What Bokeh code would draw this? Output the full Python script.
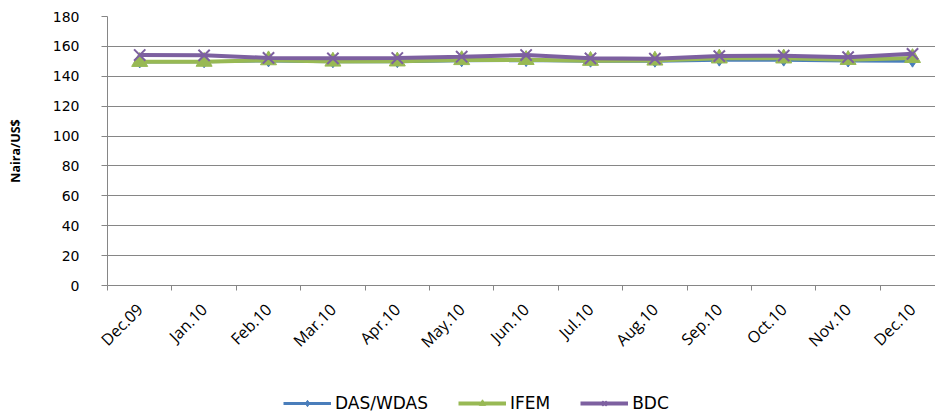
from math import pi

from bokeh.embed import file_html
from bokeh.layouts import column
from bokeh.models import FixedTicker, Legend, Range1d
from bokeh.plotting import figure
from bokeh.resources import INLINE

# Monthly average exchange rates (Naira per US$)
months = ["Dec.09", "Jan.10", "Feb.10", "Mar.10", "Apr.10", "May.10", "Jun.10",
          "Jul.10", "Aug.10", "Sep.10", "Oct.10", "Nov.10", "Dec.10"]
das_wdas = [149.6, 149.7, 150.3, 149.7, 149.8, 150.4, 150.5,
            150.1, 150.1, 150.8, 150.8, 150.2, 150.1]
ifem = [149.7, 149.8, 150.8, 149.9, 150.0, 150.9, 151.0,
        150.4, 150.6, 152.0, 152.0, 151.0, 152.3]
bdc = [154.2, 154.0, 152.3, 152.0, 152.2, 153.1, 154.2,
       152.0, 151.8, 153.5, 153.8, 152.8, 155.0]
series_names = ["DAS/WDAS", "IFEM", "BDC"]
y_ticks = [0, 20, 40, 60, 80, 100, 120, 140, 160, 180]

blue = "#4A7EBB"
green = "#98B954"
purple = "#7D60A0"
axis_grey = "#868686"

x = list(range(len(months)))
step_px = 64.4
frame_w = 935 - 107

p = figure(frame_width=frame_w, frame_height=269,
           output_backend="svg", toolbar_location=None,
           x_range=Range1d(-0.5, frame_w / step_px - 0.5),
           y_range=Range1d(0, 180),
           min_border_left=107, min_border_right=0,
           min_border_top=16, min_border_bottom=103)
p.outline_line_color = None
p.background_fill_color = "white"
p.border_fill_color = "white"

# y axis
p.yaxis.ticker = FixedTicker(ticks=y_ticks)
p.yaxis.axis_line_color = axis_grey
p.yaxis.major_tick_line_color = axis_grey
p.yaxis.major_tick_out = 6
p.yaxis.major_tick_in = 0
p.yaxis.minor_tick_line_color = None
p.yaxis.major_label_standoff = 22
p.yaxis.major_label_text_font = "DejaVu Sans"
p.yaxis.major_label_text_font_size = "14px"
p.yaxis.major_label_text_color = "black"
p.yaxis.axis_label = "Naira/US$"
p.yaxis.axis_label_text_font = "Open Sans"
p.yaxis.axis_label_text_font_style = "bold"
p.yaxis.axis_label_text_font_size = "12.5px"
p.yaxis.axis_label_text_color = "black"
p.yaxis.axis_label_standoff = 26

p.ygrid.ticker = FixedTicker(ticks=y_ticks)
p.ygrid.grid_line_color = axis_grey
p.ygrid.grid_line_width = 1
p.xgrid.grid_line_color = None

# x axis: labels at category centres, tick marks between categories
p.xaxis.ticker = FixedTicker(ticks=x, minor_ticks=[i - 0.5 for i in range(len(months) + 1)])
p.xaxis.major_label_overrides = {i: m for i, m in enumerate(months)}
p.xaxis.major_label_orientation = pi / 4
p.xaxis.major_tick_out = 0
p.xaxis.major_tick_in = 0
p.xaxis.minor_tick_out = 5
p.xaxis.minor_tick_in = 0
p.xaxis.minor_tick_line_color = axis_grey
p.xaxis.axis_line_color = axis_grey
p.xaxis.major_label_standoff = 16
p.xaxis.major_label_text_font = "Open Sans"
p.xaxis.major_label_text_font_size = "16px"
p.xaxis.major_label_text_color = "black"

styles = [
    (das_wdas, blue, "diamond", 12, 3),
    (ifem, green, "triangle", 16, 4),
    (bdc, purple, "x", 16, 4),
]

# the three series: line plus marker
for values, color, marker, size, lw in styles:
    p.line(x, values, line_color=color, line_width=lw)
    p.scatter(x, values, marker=marker, size=size, fill_color=color, line_color=color,
              line_width=2 if marker == "x" else 1)

# legend strip under the chart; its renderers repeat the series (outside the strip's
# 0..1 range, so only their legend keys show)
lg = figure(width=935, height=25, output_backend="svg", toolbar_location=None,
            x_axis_location=None, y_axis_location=None,
            x_range=Range1d(-0.5, frame_w / step_px - 0.5), y_range=Range1d(0, 1),
            min_border=0)
lg.outline_line_color = None
lg.grid.grid_line_color = None
keys = []
for values, color, marker, size, lw in styles:
    ln = lg.line(x, values, line_color=color, line_width=lw)
    mk = lg.scatter(x, values, marker=marker, size=size, fill_color=color,
                    line_color=color, line_width=2 if marker == "x" else 1)
    keys.append([ln, mk])

legend = Legend(items=list(zip(series_names, keys)),
                orientation="horizontal", location=(176, 0),
                border_line_color=None, background_fill_alpha=0,
                label_text_font="DejaVu Sans", label_text_font_size="17px",
                label_text_color="black", glyph_width=48, glyph_height=16,
                label_standoff=4, spacing=30, padding=0, margin=0,
                label_height=18)
lg.add_layout(legend, "center")

layout = column(p, lg, spacing=0)
open("out.html", "w").write(file_html(layout, INLINE))
